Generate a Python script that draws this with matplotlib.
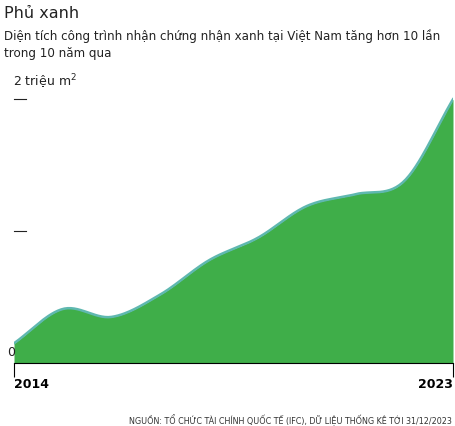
import numpy as np
import matplotlib
matplotlib.use("Agg")
import matplotlib.pyplot as plt

years = [2014, 2015, 2016, 2017, 2018, 2019, 2020, 2021, 2022, 2023]
values = [0.15, 0.41, 0.35, 0.52, 0.78, 0.95, 1.19, 1.28, 1.38, 2.0]

def catmull(x, y, n=30):
    x = np.asarray(x, float); y = np.asarray(y, float)
    px = np.concatenate([[2*x[0]-x[1]], x, [2*x[-1]-x[-2]]])
    py = np.concatenate([[2*y[0]-y[1]], y, [2*y[-1]-y[-2]]])
    xs, ys = [], []
    for i in range(1, len(px)-2):
        t = np.linspace(0, 1, n, endpoint=False)
        for arr, out in ((px, xs), (py, ys)):
            p0, p1, p2, p3 = arr[i-1], arr[i], arr[i+1], arr[i+2]
            out.extend(0.5*((2*p1) + (-p0+p2)*t + (2*p0-5*p1+4*p2-p3)*t**2 + (-p0+3*p1-3*p2+p3)*t**3))
    xs.append(x[-1]); ys.append(y[-1])
    return np.array(xs), np.array(ys)

fig = plt.figure(figsize=(4.55, 4.26), dpi=100)
ax = fig.add_axes([14/455, 1-369/426, 439/455, (369-90)/426])
sx, sy = catmull(years, values)
ax.fill_between(sx, 0, sy, color="#3fae49", lw=0)
ax.plot(sx, sy, color="#5fb8b0", lw=1.8)
ax.set_xlim(2014, 2023)
ax.set_ylim(-0.045, 2.07)
for s in ["top", "right", "left"]:
    ax.spines[s].set_visible(False)
ax.spines["bottom"].set_position(("data", 0))
ax.set_yticks([])
for v in [1, 2]:
    ax.plot([2014, 2014 + 9*12/439], [v, v], color="#222", lw=0.8, clip_on=False)
ax.text(2014 - 0.05, 0.03, "0", fontsize=9, ha="center", va="bottom", color="#222")
ax.text(2014 - 0.02, 2.06, "2 triệu m$^2$", fontsize=9, ha="left", va="bottom", color="#222")
ax.set_xticks([2014, 2023])
ax.set_xticklabels(["2014", "2023"], fontsize=9, fontweight="bold")
ax.tick_params(axis="x", length=10, width=0.8, pad=1)
ax.get_xticklabels()[0].set_ha("left")
ax.get_xticklabels()[1].set_ha("right")

fig.text(4/455, 1-13/426, "Phủ xanh", fontsize=11.5, color="#222", va="center")
fig.text(4/455, 1-36/426, "Diện tích công trình nhận chứng nhận xanh tại Việt Nam tăng hơn 10 lần", fontsize=8.6, color="#222", va="center")
fig.text(4/455, 1-53/426, "trong 10 năm qua", fontsize=8.6, color="#222", va="center")
fig.text(452/455, 1-420/426, "NGUỒN: TỔ CHỨC TÀI CHÍNH QUỐC TẾ (IFC), DỮ LIỆU THỐNG KÊ TỚI 31/12/2023", fontsize=5.8, color="#333", ha="right", va="center")
fig.savefig("out.png", dpi=100)
